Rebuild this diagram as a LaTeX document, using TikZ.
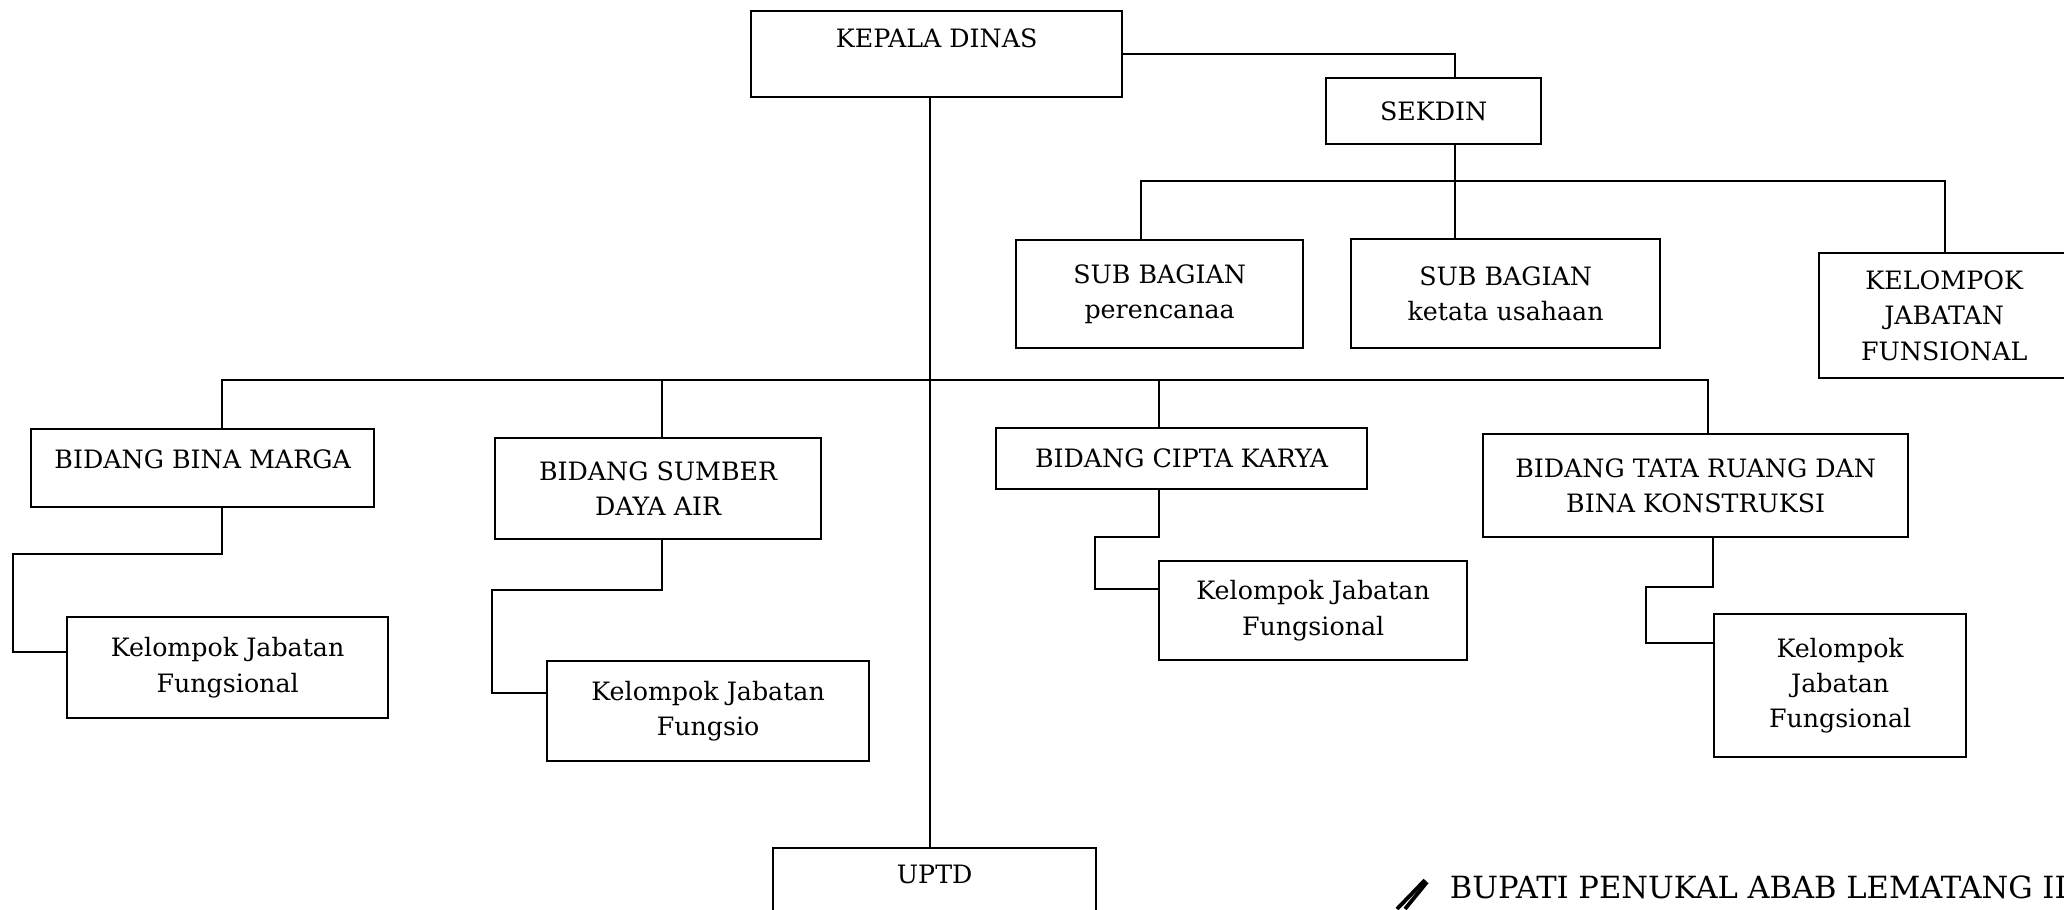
\documentclass[tikz,border=0pt]{standalone}
\usepackage{fontspec}
\setmainfont{DejaVu Serif}
\newcommand{\boxfont}{\fontsize{7.2}{10}\selectfont}
\newcommand{\signfont}{\fontsize{8.7}{10}\selectfont}
\begin{document}
\begin{tikzpicture}[line width=0.65pt,
  unit/.style={draw, inner sep=0pt, align=center, font=\boxfont, anchor=north west}]

  \useasboundingbox (0,0) rectangle (20.64,-9.09);
  \clip (0,0) rectangle (20.64,-9.09);

  % -- Kepala dinas and sekdin --
  \node[unit, minimum width=3.71cm, text height=0.36cm, text depth=0.50cm] (kepala) at (7.50,-0.10) {KEPALA DINAS};
  \node[unit, minimum width=2.15cm, minimum height=0.66cm] (sekdin) at (13.25,-0.77) {SEKDIN};

  % -- Sub bagian --
  \node[unit, minimum width=2.87cm, minimum height=1.08cm] (subren) at (10.15,-2.39) {SUB BAGIAN\\perencanaa};
  \node[unit, minimum width=3.09cm, minimum height=1.09cm] (subtu) at (13.50,-2.38) {SUB BAGIAN\\ketata usahaan};
  \node[unit, minimum width=2.50cm, minimum height=1.25cm] (kjfsek) at (18.18,-2.52) {KELOMPOK\\JABATAN\\FUNSIONAL};

  % -- Bidang --
  \node[unit, minimum width=3.43cm, text height=0.39cm, text depth=0.39cm] (marga) at (0.30,-4.28) {BIDANG BINA MARGA};
  \node[unit, minimum width=3.26cm, minimum height=1.01cm] (sda) at (4.94,-4.37) {BIDANG SUMBER\\DAYA AIR};
  \node[unit, minimum width=3.71cm, minimum height=0.61cm] (cipta) at (9.95,-4.27) {BIDANG CIPTA KARYA};
  \node[unit, minimum width=4.25cm, minimum height=1.03cm] (ruang) at (14.82,-4.33) {BIDANG TATA RUANG DAN\\BINA KONSTRUKSI};

  % -- Kelompok jabatan fungsional --
  \node[unit, minimum width=3.21cm, minimum height=1.01cm] (kjfa) at (0.66,-6.16) {Kelompok Jabatan\\Fungsional};
  \node[unit, minimum width=3.22cm, minimum height=1.00cm] (kjfb) at (5.46,-6.60) {Kelompok Jabatan\\Fungsio};
  \node[unit, minimum width=3.08cm, minimum height=0.99cm] (kjfc) at (11.58,-5.60) {Kelompok Jabatan\\Fungsional};
  \node[unit, minimum width=2.52cm, minimum height=1.43cm] (kjfd) at (17.13,-6.13) {Kelompok\\Jabatan\\Fungsional};

  % -- UPTD --
  \node[unit, minimum width=3.23cm, text height=0.35cm, text depth=0.65cm] (uptd) at (7.72,-8.47) {UPTD};

  % -- Junctions --
  \coordinate (trunk) at (9.30,-3.80);
  \coordinate (sk) at (14.55,-1.81);
  \coordinate (sa) at (11.41,-1.81);
  \coordinate (sb) at (19.45,-1.81);
  \coordinate (ba) at (2.22,-3.80);
  \coordinate (bb) at (6.62,-3.80);
  \coordinate (bc) at (11.59,-3.80);
  \coordinate (bd) at (17.08,-3.80);

  % -- Lines of command --
  \draw (kepala.south -| trunk) -- (uptd.north -| trunk);
  \draw (kepala.east) -| (sekdin.north -| sk);
  \draw (sekdin.south -| sk) -- (subtu.north -| sk);
  \draw (subren.north -| sa) -- (sa) -- (sb) -- (kjfsek.north -| sb);
  \draw (marga.north -| ba) -- (ba) -- (bd) -- (ruang.north -| bd);
  \draw (bb) -- (sda.north -| bb);
  \draw (bc) -- (cipta.north -| bc);

  % -- Elbows down to the kelompok boxes --
  \foreach \up/\down/\xa/\ya/\xb/\yb in {marga/kjfa/2.22/5.54/0.13/6.52, sda/kjfb/6.62/5.90/4.92/6.93,
      cipta/kjfc/11.59/5.37/10.95/5.89, ruang/kjfd/17.13/5.87/16.46/6.43}
    \draw (\up.south -| \xa,0) -- (\xa,-\ya) -| (\xb,-\yb) -- (\down.west |- \xb,-\yb);

  % -- Signature --
  \draw[line width=1.1pt] (13.97,-9.09) -- (14.25,-8.80);
  \draw[line width=1.1pt] (14.05,-9.09) -- (14.27,-8.82);
  \node[font=\signfont, anchor=base west] (bupati) at (14.37,-8.98) {BUPATI PENUKAL ABAB LEMATANG ILIR};

\end{tikzpicture}
\end{document}
